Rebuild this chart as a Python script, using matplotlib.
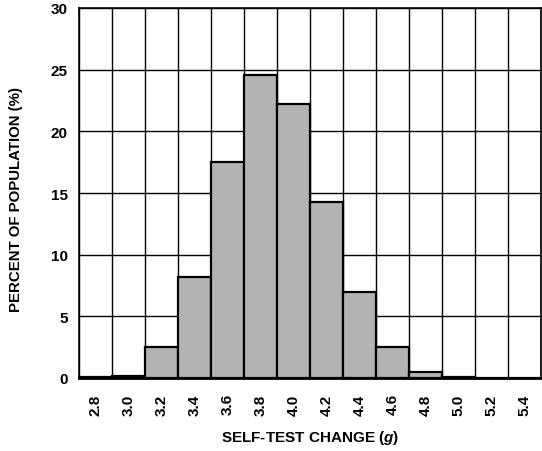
import numpy as np
import matplotlib
matplotlib.use('Agg')
import matplotlib.pyplot as plt

plt.rcParams['font.family'] = ['Liberation Sans', 'DejaVu Sans']
plt.rcParams['font.weight'] = 'bold'
plt.rcParams['mathtext.fontset'] = 'custom'
plt.rcParams['mathtext.it'] = 'Liberation Sans:italic:bold'
plt.rcParams['mathtext.rm'] = 'Liberation Sans:bold'

centros = [2.8, 3.0, 3.2, 3.4, 3.6, 3.8, 4.0, 4.2, 4.4, 4.6, 4.8, 5.0, 5.2, 5.4]
porcentaje = [0.05, 0.2, 2.5, 8.2, 17.5, 24.6, 22.2, 14.3, 7.0, 2.5, 0.5, 0.1, 0.0, 0.0]
etiquetas = ['2.8', '3.0', '3.2', '3.4', '3.6', '3.8', '4.0', '4.2', '4.4', '4.6', '4.8', '5.0', '5.2', '5.4']
ancho = 0.2

fig = plt.figure(figsize=(5.42, 4.52), dpi=100)
ax = fig.add_axes([79 / 542, 1 - 379 / 452, 462 / 542, 370 / 452])

ax.bar(centros, porcentaje, width=ancho, color='#b3b3b3', edgecolor='black', linewidth=1.6, zorder=3)

bordes = np.arange(len(centros) + 1) * ancho + centros[0] - ancho / 2
ax.set_xlim(bordes[0], bordes[-1])
ax.set_ylim(0, 30)
ax.set_xticks(centros)
ax.set_xticklabels(etiquetas, rotation=90, fontsize=11, fontweight='bold')
ax.set_xticks(bordes, minor=True)
ax.set_yticks([0, 5, 10, 15, 20, 25, 30])
ax.set_yticklabels(['0', '5', '10', '15', '20', '25', '30'], fontsize=11, fontweight='bold')
ax.tick_params(which='both', length=0)
ax.tick_params(axis='x', pad=11)
ax.tick_params(axis='y', pad=8)

ax.grid(which='minor', axis='x', color='black', linewidth=1.0, zorder=1)
ax.grid(which='major', axis='y', color='black', linewidth=1.0, zorder=1)
ax.set_axisbelow(True)

for lado in ['top', 'left', 'right']:
    ax.spines[lado].set_linewidth(1.2)
ax.spines['bottom'].set_linewidth(2.0)
ax.spines['bottom'].set_zorder(4)

ax.set_xlabel('SELF-TEST CHANGE ($g$)', fontsize=11, fontweight='bold', labelpad=10)
ax.set_ylabel('PERCENT OF POPULATION (%)', fontsize=10.8, fontweight='bold')
ax.yaxis.set_label_coords(-0.122, 0.484)

fig.savefig('out.png', dpi=100)
